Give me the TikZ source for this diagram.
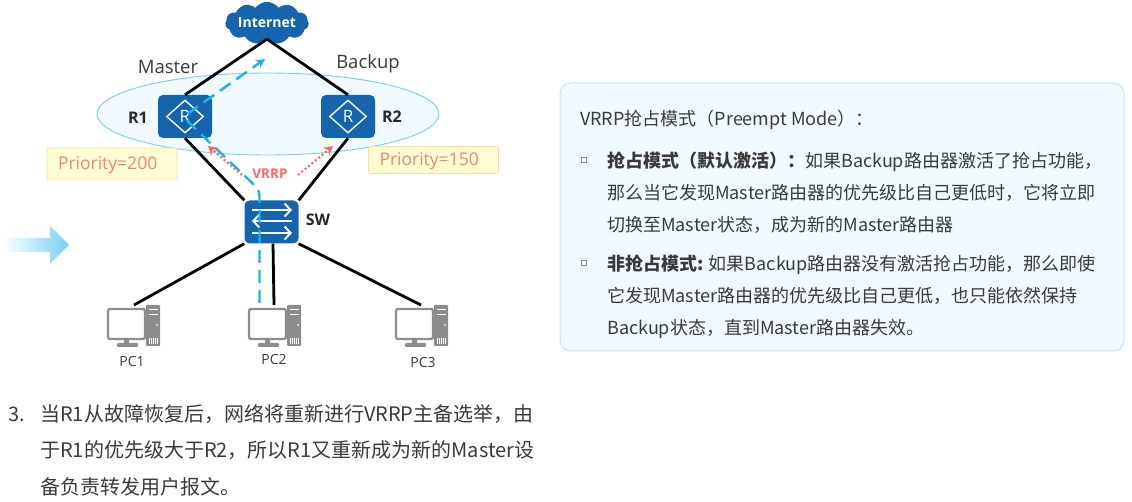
\documentclass[tikz,border=0pt]{standalone}
\usepackage{fontspec}
\setmainfont{Open Sans}
\newfontfamily\cjk{Noto Sans CJK SC}
\usetikzlibrary{shapes.geometric,shapes.symbols,arrows.meta}
\definecolor{netblue}{HTML}{1464AE}
\definecolor{flowblue}{HTML}{1CB0EC}
\definecolor{vrrpred}{HTML}{EE6F60}
\definecolor{inktext}{HTML}{3A3A3A}
\definecolor{pcgray}{HTML}{8C8C8C}
\tikzset{
  devbox/.style={draw=none,fill=netblue,rounded corners=5pt,minimum width=54pt,minimum height=43pt,inner sep=0pt},
  rmark/.style={diamond,draw=white,line width=1.4pt,minimum width=37pt,minimum height=33pt,inner sep=0pt,text=white,font=\fontsize{17}{17}\selectfont},
  wire/.style={black,line width=2.8pt},
  prio/.style={draw=yellow!30!orange!35,fill=yellow!18,line width=0.8pt,rounded corners=2pt,text width=108pt,inner xsep=11pt,align=left,text depth=1pt,text=vrrpred!85,font=\fontsize{17.5}{18}\selectfont},
  devname/.style={inktext,font=\fontsize{18.5}{19}\selectfont},
  devbold/.style={black!85,font=\bfseries\fontsize{16}{16}\selectfont},
  pcname/.style={inktext,font=\fontsize{14}{14}\selectfont},
  panelline/.style={anchor=base west,inner sep=0pt,text=inktext,font=\cjk\fontsize{18}{18}\selectfont},
  noteline/.style={anchor=base west,inner sep=0pt,text=inktext,font=\cjk\fontsize{20}{20}\selectfont},
  squaremark/.style={draw=pcgray,line width=0.7pt,minimum size=5pt,inner sep=0pt},
  swarrow/.style={white,line width=2pt,-{Straight Barb[length=6pt,width=13pt]}},
  pc/.pic={
    \fill[pcgray,rounded corners=1pt] (39,-3) rectangle (53,38);
    \draw[white,line width=1pt] (42,2) -- (51,2) (42,7) -- (51,7);
    \fill[white] (50,17) circle (1pt);
    \draw[white,line width=0.5pt] (42,30) -- (42,36) (44,30) -- (44,36) (46,30) -- (46,36) (48,30) -- (48,36) (50,30) -- (50,36);
    \draw[pcgray,fill=white,line width=2.2pt,rounded corners=1.5pt] (1,1) rectangle (38,31);
    \fill[pcgray] (17,31) rectangle (22,36);
    \fill[pcgray,rounded corners=1pt] (10,35) rectangle (31,39);
  }
}
\begin{document}
\begin{tikzpicture}[x=1pt,y=-1pt]
\useasboundingbox (0,0) rectangle (1132,502);
\node[ellipse,draw=flowblue!60,fill=flowblue!7,line width=0.9pt,minimum width=342pt,minimum height=82pt,inner sep=0pt] (vrrpgroup) at (268,114) {};
\node[cloud,cloud puffs=11,cloud puff arc=110,aspect=2.6,fill=netblue,minimum width=82pt,minimum height=40pt,inner sep=0pt,text=white,font=\bfseries\fontsize{14}{14}\selectfont] (internet) at (267,23) {Internet};
\node[devbox] (r1) at (185,116.5) {};
\node[devbox] (r2) at (348,116.5) {};
\node[devbox] (sw) at (271.5,222) {};
\node[rmark] (r1mark) at (r1) {R};
\node[rmark] (r2mark) at (r2) {R};
\draw[swarrow] (252,210) -- (292,210);
\draw[swarrow] (292,221) -- (252,221);
\draw[swarrow] (252,233) -- (292,233);
\node[devname] (master) at (168,67) {Master};
\node[devname] (backup) at (368,64) {Backup};
\node[devbold] (r1name) at (138,118) {R1};
\node[devbold] (r2name) at (392,117) {R2};
\node[devbold] (swname) at (318,220) {SW};
\node[prio,minimum height=31pt] (prio1) at (112,163.5) {Priority=200};
\node[prio,minimum height=27pt] (prio2) at (433.5,160) {Priority=150};
\node[text=vrrpred,font=\bfseries\fontsize{13.5}{14}\selectfont] (vrrp) at (270,174) {VRRP};
\pic at (107,308) {pc};
\pic at (248,308) {pc};
\pic at (395,308) {pc};
\coordinate (pc1top) at (134,305);
\coordinate (pc2top) at (274,305);
\coordinate (pc3top) at (421,305);
\node[pcname] (pc1) at (132,361) {PC1};
\node[pcname] (pc2) at (274,359) {PC2};
\node[pcname] (pc3) at (423,362) {PC3};
\draw[wire] (internet.south) -- (r1.north);
\draw[wire] (internet.south) -- (r2.north);
\draw[wire] (r1.south) -- (sw.north west);
\draw[wire] (r2.south) -- (sw.north east);
\draw[wire] (sw.south west) -- (pc1top);
\draw[wire] (sw.south) ++(1.5,0) -- (pc2top);
\draw[wire] (sw.south east) -- (pc3top);
\coordinate (flowstart) at (259.5,303);
\coordinate (flowbend) at (259.5,190);
\coordinate (flowturn) at (183,117);
\coordinate (flowend) at (265,59);
\draw[flowblue,line width=2.4pt,rounded corners=6pt,dash pattern=on 13pt off 7pt,-{Stealth[length=9pt,width=9pt]}] (flowstart) -- (flowbend) -- (flowturn) -- (flowend);
\coordinate (vrrpa) at (242,175);
\coordinate (vrrpb) at (208,146);
\coordinate (vrrpc) at (298,175);
\coordinate (vrrpd) at (333,146);
\draw[vrrpred,line width=2.2pt,dash pattern=on 2pt off 2.4pt,-{Stealth[length=9pt,width=10pt,fill=vrrpred]}] (vrrpa) -- (vrrpb);
\draw[vrrpred,line width=2.2pt,dash pattern=on 2pt off 2.4pt,-{Stealth[length=9pt,width=10pt,fill=vrrpred]}] (vrrpc) -- (vrrpd);
\shade[left color=white,right color=flowblue!60,draw=none] (3,238) -- (50,238) -- (50,226) -- (69,245) -- (50,264) -- (50,252) -- (3,252) -- cycle;
\node[draw=flowblue!28,fill=flowblue!6,line width=1pt,rounded corners=11pt,minimum width=564pt,minimum height=268pt,inner sep=0pt] (panel) at (842,217) {};
\node[panelline] (ptitle) at (580,125.5) {VRRP抢占模式（Preempt Mode）：};
\node[squaremark] (mark1) at (584,160) {};
\node[panelline] (pline1) at (607,167.5) {{\bfseries 抢占模式（默认激活）：}如果Backup路由器激活了抢占功能，};
\node[panelline] (pline2) at (607,199.5) {那么当它发现Master路由器的优先级比自己更低时，它将立即};
\node[panelline] (pline3) at (607,231.5) {切换至Master状态，成为新的Master路由器};
\node[squaremark] (mark2) at (584,263) {};
\node[panelline] (pline4) at (607,270.5) {{\bfseries 非抢占模式:} 如果Backup路由器没有激活抢占功能，那么即使};
\node[panelline] (pline5) at (607,302.5) {它发现Master路由器的优先级比自己更低，也只能依然保持};
\node[panelline] (pline6) at (607,334.5) {Backup状态，直到Master路由器失效。};
\node[noteline] (num3) at (8,421) {3.};
\node[noteline] (note1) at (40,421) {当R1从故障恢复后，网络将重新进行VRRP主备选举，由};
\node[noteline] (note2) at (40,457) {于R1的优先级大于R2，所以R1又重新成为新的Master设};
\node[noteline] (note3) at (40,494) {备负责转发用户报文。};
\end{tikzpicture}
\end{document}
